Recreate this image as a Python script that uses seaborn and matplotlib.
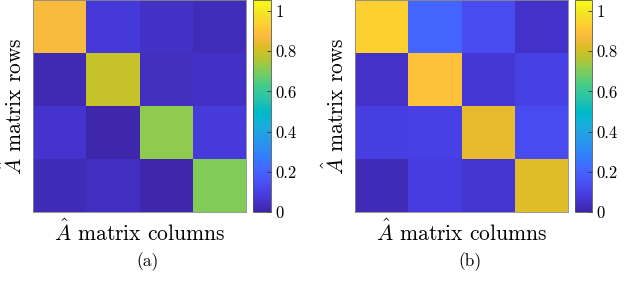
import numpy as np
import pandas as pd
import matplotlib
matplotlib.use("Agg")
import matplotlib.pyplot as plt
import seaborn as sns
from matplotlib.colors import LinearSegmentedColormap

# MATLAB parula colormap (64 entries)
parula_data = [
    [0.2422, 0.1504, 0.6603], [0.2504, 0.1650, 0.7076], [0.2578, 0.1818, 0.7511], [0.2647, 0.1978, 0.7952],
    [0.2706, 0.2147, 0.8364], [0.2751, 0.2342, 0.8710], [0.2783, 0.2559, 0.8991], [0.2803, 0.2782, 0.9221],
    [0.2813, 0.3006, 0.9414], [0.2810, 0.3228, 0.9579], [0.2795, 0.3447, 0.9717], [0.2760, 0.3667, 0.9829],
    [0.2699, 0.3892, 0.9906], [0.2602, 0.4123, 0.9952], [0.2440, 0.4358, 0.9988], [0.2206, 0.4603, 0.9973],
    [0.1963, 0.4847, 0.9892], [0.1834, 0.5074, 0.9798], [0.1786, 0.5289, 0.9682], [0.1764, 0.5499, 0.9520],
    [0.1687, 0.5703, 0.9359], [0.1540, 0.5902, 0.9218], [0.1460, 0.6091, 0.9079], [0.1380, 0.6276, 0.8973],
    [0.1248, 0.6459, 0.8883], [0.1113, 0.6635, 0.8763], [0.0952, 0.6798, 0.8598], [0.0689, 0.6948, 0.8394],
    [0.0297, 0.7082, 0.8163], [0.0036, 0.7203, 0.7917], [0.0067, 0.7312, 0.7660], [0.0433, 0.7411, 0.7394],
    [0.0964, 0.7500, 0.7120], [0.1408, 0.7584, 0.6842], [0.1717, 0.7670, 0.6554], [0.1938, 0.7758, 0.6251],
    [0.2161, 0.7843, 0.5923], [0.2470, 0.7918, 0.5567], [0.2906, 0.7973, 0.5188], [0.3406, 0.8008, 0.4789],
    [0.3909, 0.8029, 0.4354], [0.4456, 0.8024, 0.3909], [0.5044, 0.7993, 0.3480], [0.5616, 0.7942, 0.3045],
    [0.6174, 0.7876, 0.2612], [0.6720, 0.7793, 0.2227], [0.7242, 0.7698, 0.1910], [0.7738, 0.7598, 0.1646],
    [0.8203, 0.7498, 0.1535], [0.8634, 0.7406, 0.1596], [0.9035, 0.7330, 0.1774], [0.9393, 0.7288, 0.2100],
    [0.9728, 0.7298, 0.2394], [0.9956, 0.7434, 0.2371], [0.9970, 0.7659, 0.2199], [0.9952, 0.7893, 0.2028],
    [0.9892, 0.8136, 0.1885], [0.9786, 0.8386, 0.1766], [0.9676, 0.8639, 0.1643], [0.9610, 0.8890, 0.1537],
    [0.9597, 0.9135, 0.1423], [0.9628, 0.9373, 0.1265], [0.9691, 0.9606, 0.1064], [0.9769, 0.9839, 0.0805],
]
parula = LinearSegmentedColormap.from_list("parula", parula_data, N=256)

# |A_hat| values
corr_a = [
    [0.870, 0.075, 0.042, 0.025],
    [0.017, 0.787, 0.033, 0.042],
    [0.054, 0.008, 0.720, 0.080],
    [0.022, 0.038, 0.008, 0.703],
]
corr_b = [
    [0.938, 0.210, 0.134, 0.050],
    [0.047, 0.895, 0.067, 0.100],
    [0.092, 0.100, 0.837, 0.134],
    [0.022, 0.084, 0.059, 0.824],
]
cbar_ticks = [0, 0.2, 0.4, 0.6, 0.8, 1]
cbar_labels = ["0", "0.2", "0.4", "0.6", "0.8", "1"]
panel_labels = ["(a)", "(b)"]

plt.rcParams["font.family"] = "cmr10"
plt.rcParams["mathtext.fontset"] = "cm"
plt.rcParams["axes.unicode_minus"] = False

fig = plt.figure(figsize=(6.4, 2.98), dpi=100)

W, H = 640.0, 298.0
layout = [
    # heatmap x0, x1, colorbar x0, x1, caption x
    (33, 246, 253, 271, 148),
    (355, 568, 575, 592, 470),
]
top, bottom = 0, 212

for data, (hx0, hx1, cx0, cx1, capx), lab in zip([corr_a, corr_b], layout, panel_labels):
    ax = fig.add_axes([hx0 / W, (H - bottom) / H, (hx1 - hx0) / W, (bottom - top) / H])
    cax = fig.add_axes([cx0 / W, (H - bottom) / H, (cx1 - cx0) / W, (bottom - top) / H])
    df = pd.DataFrame(data)
    sns.heatmap(df, ax=ax, cbar_ax=cax, cmap=parula, vmin=0, vmax=1.055,
                xticklabels=False, yticklabels=False)
    ax.set_xticks([])
    ax.set_yticks([])
    for s in ax.spines.values():
        s.set_visible(True)
        s.set_linewidth(0.6)
        s.set_color("#888888")
    ax.set_xlabel(r"$\hat{A}$ matrix columns", fontsize=15.5, labelpad=5)
    ax.set_ylabel(r"$\hat{A}$ matrix rows", fontsize=15.5, labelpad=5)

    cbar = ax.collections[0].colorbar
    cbar.set_ticks(cbar_ticks)
    cbar.set_ticklabels(cbar_labels)
    cbar.ax.tick_params(direction="in", length=3, width=0.6, labelsize=12, pad=3.5, color="#333333")
    cbar.outline.set_linewidth(0.6)
    cbar.outline.set_edgecolor("#555555")

    fig.text(capx / W, (H - 262) / H, lab, ha="center", va="center", fontsize=12.5)

fig.savefig("out.png", dpi=100)
